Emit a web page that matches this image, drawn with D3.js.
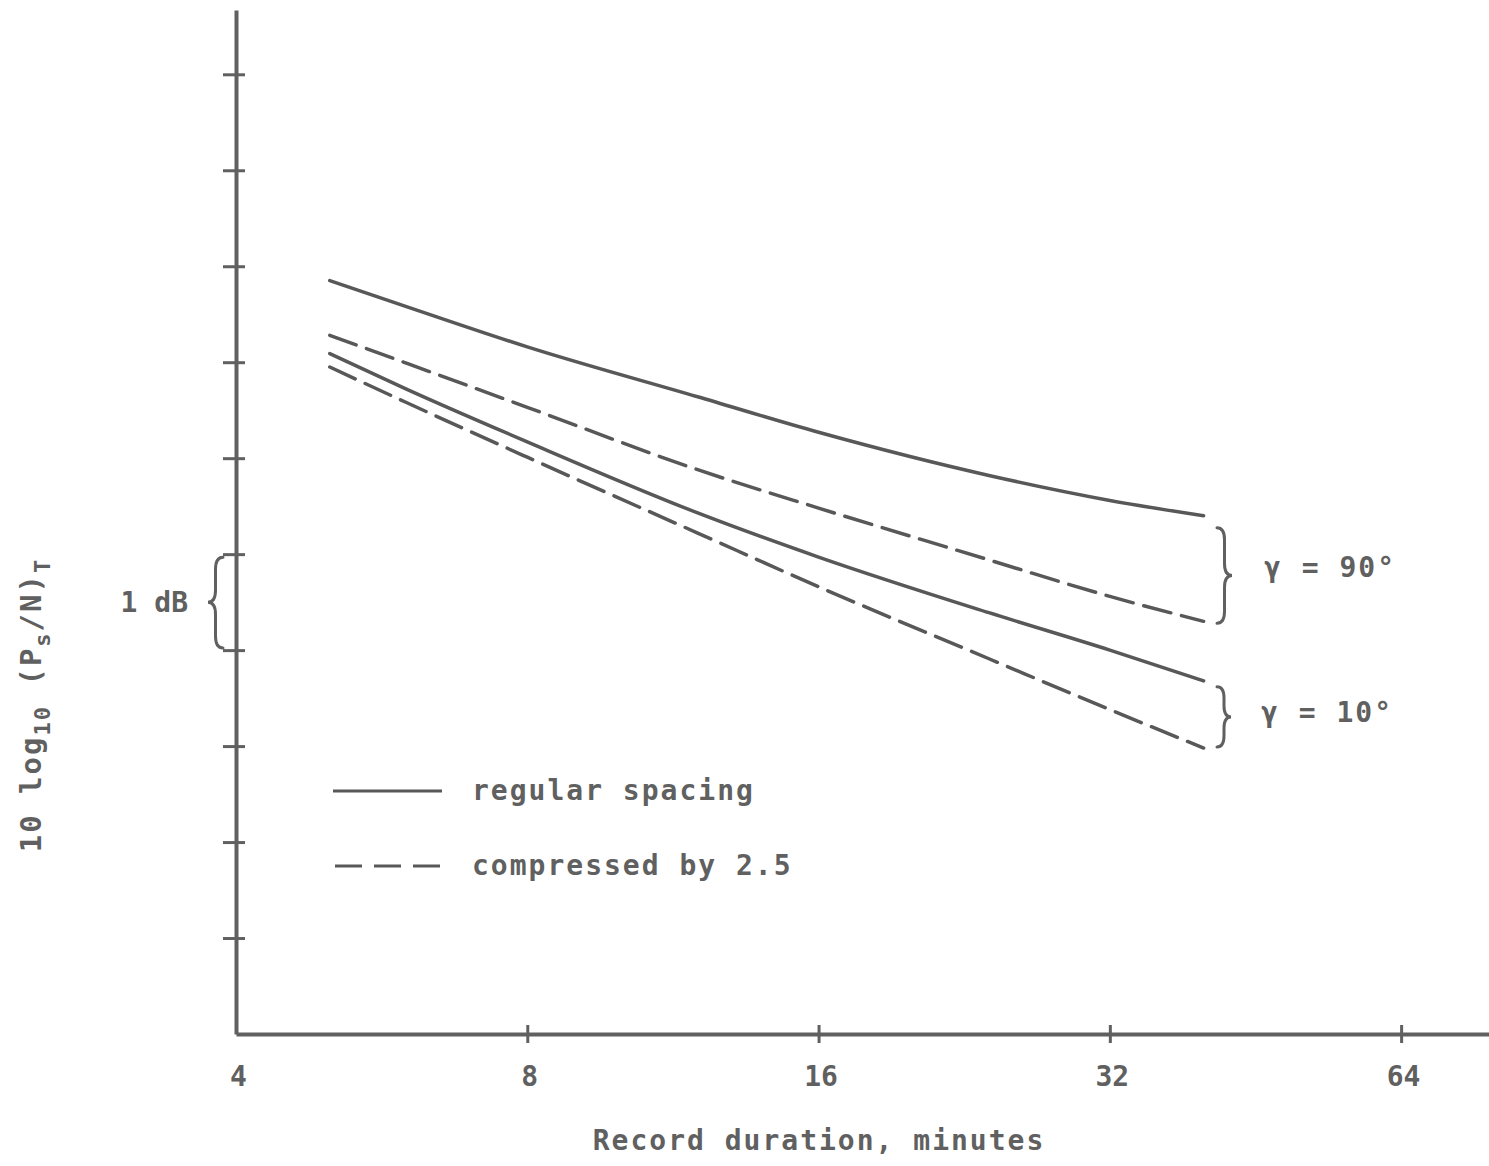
<!DOCTYPE html>
<html>
<head>
<meta charset="utf-8">
<script src="https://cdn.jsdelivr.net/npm/d3@7"></script>
<style>
  html, body { margin: 0; padding: 0; background: #fff; }
  svg { display: block; }
  text { font-family: "DejaVu Sans Mono", monospace; font-weight: bold; fill: #606060; }
</style>
</head>
<body>
<svg id="chart" width="1489" height="1166"></svg>
<script>
// ---- data ----
const minutes = [5, 6, 8, 12, 16, 24, 32, 40];
const regular90 = [7.85, 7.58, 7.16, 6.64, 6.27, 5.82, 5.56, 5.40];
const compressed90 = [7.28, 6.99, 6.53, 5.88, 5.48, 4.94, 4.56, 4.30];
const regular10 = [7.09, 6.72, 6.17, 5.43, 4.97, 4.39, 4.00, 3.68];
const compressed10 = [6.95, 6.58, 6.01, 5.22, 4.66, 3.91, 3.38, 2.98];
const xTickValues = [4, 8, 16, 32, 64];
const yTickValues = [1, 2, 3, 4, 5, 6, 7, 8, 9, 10];
const legendLabels = ["regular spacing", "compressed by 2.5"];
const gammaLabels = ["\u03B3 = 90\u00B0", "\u03B3 = 10\u00B0"];
const xTitle = "Record duration, minutes";

const ink = "#606060";
const svg = d3.select("#chart");

const x = d3.scaleLog().base(2).domain([4, 79]).range([236, 1489.6]);
const y = d3.scaleLinear().domain([0, 10.67]).range([1034, 10]);

// ---- axes ----
const gx = svg.append("g").attr("transform", `translate(0,${y(0)})`)
  .call(d3.axisBottom(x).tickValues(xTickValues).tickFormat(d3.format("d")).tickSize(9).tickSizeOuter(0));
gx.select(".domain").attr("stroke", ink).attr("stroke-width", 4);
gx.selectAll(".tick line").attr("stroke", ink).attr("stroke-width", 3).attr("y1", -9).attr("y2", 9);
gx.selectAll(".tick text").attr("y", 52).attr("dy", 0).attr("dx", 2)
  .style("font-size", "28px").style("font-family", "DejaVu Sans Mono").style("font-weight", "bold").attr("fill", ink);
gx.select(".tick:first-of-type line").remove();

const gy = svg.append("g").attr("transform", `translate(${x(4)},0)`)
  .call(d3.axisLeft(y).tickValues(yTickValues).tickFormat("").tickSize(12).tickSizeOuter(0));
gy.select(".domain").attr("stroke", ink).attr("stroke-width", 4);
gy.selectAll(".tick line").attr("stroke", ink).attr("stroke-width", 3).attr("x1", -13).attr("x2", 9);

// ---- curves ----
const line = d3.line().x(d => x(d[0])).y(d => y(d[1])).curve(d3.curveMonotoneX);
const series = [
  { vals: regular90, dash: null },
  { vals: compressed90, dash: "28,11" },
  { vals: regular10, dash: null },
  { vals: compressed10, dash: "28,11" }
];
series.forEach(s => {
  svg.append("path")
    .datum(minutes.map((m, i) => [m, s.vals[i]]))
    .attr("d", line)
    .attr("fill", "none")
    .attr("stroke", "#585858")
    .attr("stroke-width", 3.5)
    .attr("stroke-linecap", "round")
    .attr("stroke-dasharray", s.dash);
});

// ---- braces ----
function brace(xBack, xTip, y0, y1, yTip) {
  const xm = (xBack + xTip) / 2;
  const r = Math.abs(xBack - xTip) / 2;
  return `M${xBack},${y0} Q${xm},${y0} ${xm},${y0 + r * 1.6}` +
         ` L${xm},${yTip - r * 1.6} Q${xm},${yTip} ${xTip},${yTip}` +
         ` Q${xm},${yTip} ${xm},${yTip + r * 1.6}` +
         ` L${xm},${y1 - r * 1.6} Q${xm},${y1} ${xBack},${y1}`;
}
const braceStyle = p => p.attr("fill", "none").attr("stroke", ink).attr("stroke-width", 3).attr("stroke-linecap", "round");

// 1 dB brace, spanning ticks 4 -> 5
svg.append("path").attr("d", brace(223, 208, y(5) + 3, y(4) - 2, (y(4) + y(5)) / 2)).call(braceStyle);
svg.append("text").attr("x", 188).attr("y", (y(4) + y(5)) / 2 + 10)
  .attr("text-anchor", "end").style("font-size", "28px").style("letter-spacing", "0px").text("1 dB");

// gamma braces, between ends of the pairs
const last = a => a[a.length - 1];
const g90top = y(last(regular90)) + 12, g90bot = y(last(compressed90)) + 2;
const g10top = y(last(regular10)) + 6, g10bot = y(last(compressed10)) - 1;
const tip90 = (g90top + g90bot) / 2, tip10 = (g10top + g10bot) / 2;
svg.append("path").attr("d", brace(1217, 1232, g90top, g90bot, tip90)).call(braceStyle);
svg.append("path").attr("d", brace(1217, 1231, g10top, g10bot, tip10)).call(braceStyle);
svg.append("text").attr("x", 1264).attr("y", tip90 + 1)
  .style("font-size", "28px").style("letter-spacing", "2px").text(gammaLabels[0]);
svg.append("text").attr("x", 1261).attr("y", tip10 + 5)
  .style("font-size", "28px").style("letter-spacing", "2px").text(gammaLabels[1]);

// ---- legend ----
const legendY = [791, 866];
svg.append("line").attr("x1", 333).attr("x2", 442).attr("y1", legendY[0]).attr("y2", legendY[0])
  .attr("stroke", "#585858").attr("stroke-width", 3);
svg.append("line").attr("x1", 335).attr("x2", 440).attr("y1", legendY[1]).attr("y2", legendY[1])
  .attr("stroke", "#585858").attr("stroke-width", 3).attr("stroke-dasharray", "27,12");
legendLabels.forEach((t, i) => {
  svg.append("text").attr("x", 472).attr("y", legendY[i] + 9)
    .style("font-size", "28px").style("letter-spacing", "2px").text(t);
});

// ---- axis titles ----
svg.append("text").attr("x", 819).attr("y", 1150).attr("text-anchor", "middle")
  .style("font-size", "28px").style("letter-spacing", "2px").text(xTitle);

const yt = svg.append("text").attr("transform", "translate(41,705) rotate(-90)")
  .attr("text-anchor", "middle").style("font-size", "29px").style("letter-spacing", "2px");
yt.append("tspan").text("10 log");
yt.append("tspan").attr("dy", 9).style("font-size", "22px").text("10");
yt.append("tspan").attr("dy", -9).text(" (P");
yt.append("tspan").attr("dy", 9).style("font-size", "22px").text("s");
yt.append("tspan").attr("dy", -9).text("/N)");
yt.append("tspan").attr("dy", 9).style("font-size", "22px").text("T");
</script>
</body>
</html>
